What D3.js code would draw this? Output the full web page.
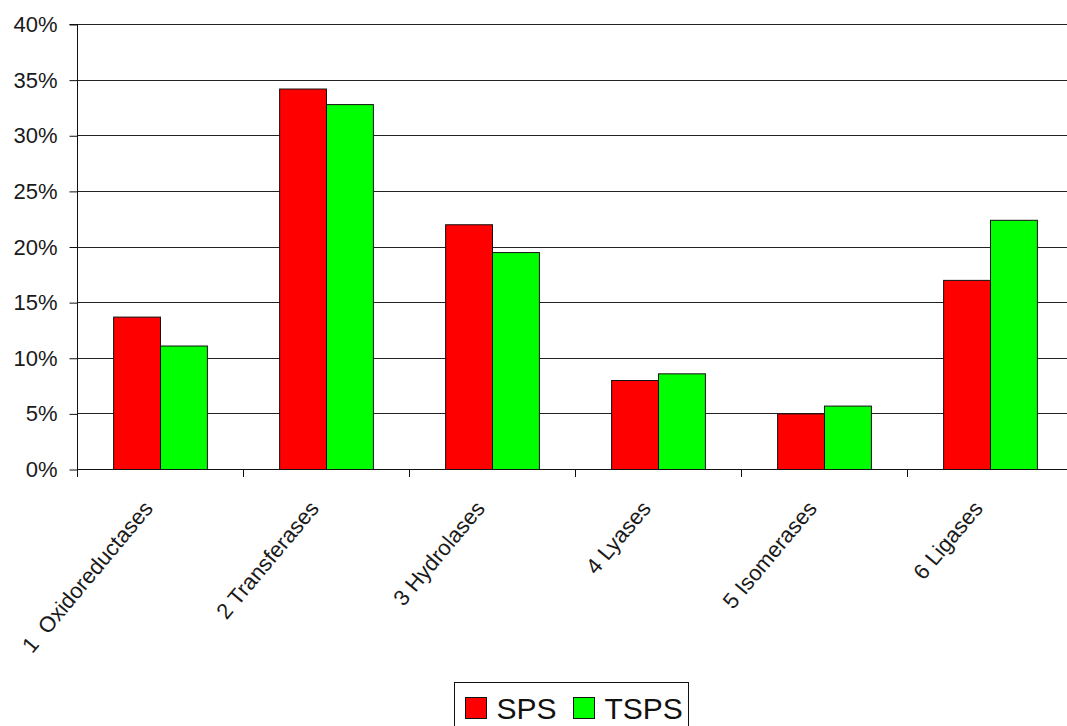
<!DOCTYPE html>
<html>
<head>
<meta charset="utf-8">
<script src="https://cdn.jsdelivr.net/npm/d3@7"></script>
<style>
  html, body { margin: 0; padding: 0; background: #fff; overflow: hidden; }
  svg { display: block; font-family: "Liberation Sans", Arial, sans-serif; }
</style>
</head>
<body>
<svg id="chart" width="1067" height="726"></svg>
<script>
// Enzyme class distribution (percent) for the two protein sets
const categories = ["1  Oxidoreductases", "2 Transferases", "3 Hydrolases", "4 Lyases", "5 Isomerases", "6 Ligases"];
const seriesNames = ["SPS", "TSPS"];
const spsValues  = [13.7, 34.2, 22.0, 8.0, 5.0, 17.0];
const tspsValues = [11.1, 32.8, 19.5, 8.6, 5.7, 22.4];
const yTicks = [0, 5, 10, 15, 20, 25, 30, 35, 40];
const colors = ["#ff0000", "#00ff00"];

const svg = d3.select("#chart");
const margin = { left: 77, top: 24, bottom: 469 };
const plotRight = 77 + 6 * 166;

const x0 = d3.scaleBand().domain(categories).range([margin.left, plotRight]).paddingInner(0).paddingOuter(0);
const x1 = d3.scaleBand().domain(seriesNames).range([0, x0.bandwidth()]).paddingInner(0).paddingOuter(0.77);
const y = d3.scaleLinear().domain([0, 40]).range([margin.bottom, margin.top]);
const color = d3.scaleOrdinal().domain(seriesNames).range(colors);

// Horizontal gridlines
svg.append("g")
  .selectAll("line")
  .data(yTicks.filter(d => d > 0))
  .join("line")
  .attr("x1", margin.left).attr("x2", plotRight)
  .attr("y1", d => Math.round(y(d)) + 0.5).attr("y2", d => Math.round(y(d)) + 0.5)
  .attr("stroke", "#222").attr("stroke-width", 1);

// Bars
const rows = categories.map((c, i) => ({ cat: c, values: [spsValues[i], tspsValues[i]] }));
svg.append("g")
  .selectAll("g")
  .data(rows)
  .join("g")
  .attr("transform", d => `translate(${x0(d.cat)},0)`)
  .selectAll("rect")
  .data(d => d.values.map((v, j) => ({ key: seriesNames[j], value: v })))
  .join("rect")
  .attr("x", d => x1(d.key) + 0.5)
  .attr("y", d => y(d.value) + 0.5)
  .attr("width", x1.bandwidth())
  .attr("height", d => y(0) - y(d.value))
  .attr("fill", d => color(d.key))
  .attr("stroke", "#111")
  .attr("stroke-width", 1);

// Y axis
const yAxis = d3.axisLeft(y).tickValues(yTicks).tickFormat(d => d + "%").tickSize(8).tickPadding(12);
const gy = svg.append("g")
  .attr("transform", `translate(${margin.left + 0.5},0.5)`)
  .call(yAxis);
gy.select(".domain").attr("stroke", "#111").attr("d", `M-8,${y(40)}H0V${y(0)}`);
gy.selectAll(".tick line").attr("stroke", "#111");
gy.selectAll(".tick text")
  .attr("font-size", 22).attr("fill", "#1a1a1a")
  .attr("font-family", "'Liberation Sans', Arial, sans-serif");

// X axis baseline and category separators
const boundaries = categories.map(c => x0(c)).concat([plotRight]);
svg.append("line")
  .attr("x1", margin.left).attr("x2", plotRight)
  .attr("y1", y(0) + 0.5).attr("y2", y(0) + 0.5)
  .attr("stroke", "#111");
svg.append("g")
  .selectAll("line")
  .data(boundaries)
  .join("line")
  .attr("x1", d => d + 0.5).attr("x2", d => d + 0.5)
  .attr("y1", y(0)).attr("y2", y(0) + 8)
  .attr("stroke", "#111");

// Rotated category labels
svg.append("g")
  .selectAll("text")
  .data(categories)
  .join("text")
  .attr("transform", d => `translate(${x0(d) + x0.bandwidth() / 2 - 6},${y(0) + 40}) rotate(-50)`)
  .attr("text-anchor", "end")
  .attr("font-size", 22)
  .attr("fill", "#1a1a1a")
  .style("white-space", "pre")
  .text(d => d);

// Legend
const legend = svg.append("g").attr("transform", "translate(454.5,682.5)");
legend.append("rect")
  .attr("width", 234).attr("height", 56)
  .attr("fill", "#fff").attr("stroke", "#111");
const items = legend.selectAll("g.item")
  .data(seriesNames)
  .join("g")
  .attr("class", "item")
  .attr("transform", (d, i) => `translate(${11 + i * 108},15)`);
items.append("rect")
  .attr("width", 21).attr("height", 21)
  .attr("fill", d => color(d)).attr("stroke", "#111");
items.append("text")
  .attr("x", 31).attr("y", 21)
  .attr("font-size", 30)
  .attr("fill", "#111")
  .text(d => d);
</script>
</body>
</html>
